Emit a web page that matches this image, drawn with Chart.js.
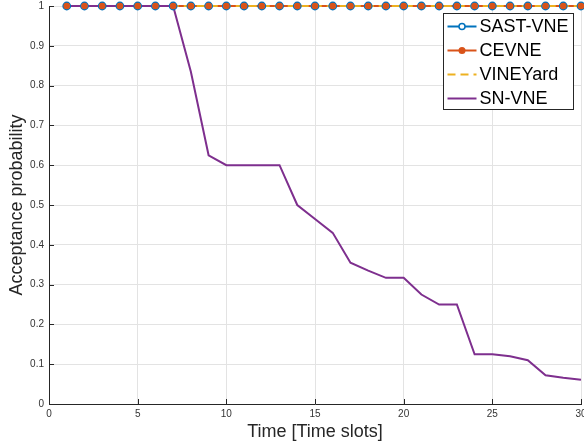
<!DOCTYPE html>
<html>
<head>
<meta charset="utf-8">
<script src="https://cdn.jsdelivr.net/npm/chart.js@4/dist/chart.umd.min.js"></script>
<style>
  html, body { margin: 0; padding: 0; background: #fff; overflow: hidden; }
  #wrap { width: 600px; height: 446px; }
</style>
</head>
<body>
<div id="wrap"><canvas id="acceptChart"></canvas></div>
<script>
// data
var timeSlots = [1,2,3,4,5,6,7,8,9,10,11,12,13,14,15,16,17,18,19,20,21,22,23,24,25,26,27,28,29,30];
var sastVne  = [1,1,1,1,1,1,1,1,1,1,1,1,1,1,1,1,1,1,1,1,1,1,1,1,1,1,1,1,1,1];
var ceVne    = [1,1,1,1,1,1,1,1,1,1,1,1,1,1,1,1,1,1,1,1,1,1,1,1,1,1,1,1,1,1];
var vineyard = [1,1,1,1,1,1,1,1,1,1,1,1,1,1,1,1,1,1,1,1,1,1,1,1,1,1,1,1,1,1];
var snVne    = [1,1,1,1,1,1,1,0.835,0.625,0.6,0.6,0.6,0.6,0.5,0.465,0.43,0.355,0.335,0.317,0.317,0.275,0.25,0.25,0.125,0.125,0.12,0.11,0.072,0.066,0.061];
var xTicks = [0,5,10,15,20,25,30];
var yTicks = [0,0.1,0.2,0.3,0.4,0.5,0.6,0.7,0.8,0.9,1];

var BLUE = '#0072BD', ORANGE = '#D95319', YELLOW = '#EDB120', PURPLE = '#7E2F8E';
var AXIS = '#262626';
var FONT = '"Liberation Sans", Arial, sans-serif';

function pts(ys) {
    return timeSlots.map(function(x, i) { return { x: x, y: ys[i] }; });
}

// matlab style ticks pointing into the plot
var innerTicks = {
    id: 'innerTicks',
    afterDatasetsDraw: function(chart) {
        var ctx = chart.ctx, a = chart.chartArea;
        var xs = chart.scales.x, ys = chart.scales.y;
        ctx.save();
        ctx.strokeStyle = AXIS;
        ctx.lineWidth = 1;
        ctx.beginPath();
        xTicks.forEach(function(v) {
            var px = Math.round(xs.getPixelForValue(v)) + 0.5;
            ctx.moveTo(px, a.bottom); ctx.lineTo(px, a.bottom - 5);
        });
        yTicks.forEach(function(v) {
            var py = Math.round(ys.getPixelForValue(v)) + 0.5;
            ctx.moveTo(a.left, py); ctx.lineTo(a.left + 5, py);
        });
        ctx.stroke();
        ctx.restore();
    }
};

// boxed legend in the top right corner
var boxLegend = {
    id: 'boxLegend',
    afterDraw: function(chart) {
        var ctx = chart.ctx;
        var bx = 443.5, by = 13.5, bw = 130, bh = 96, row = 24;
        var items = chart.data.datasets.filter(function(d) { return !d.noLegend; });
        ctx.save();
        ctx.fillStyle = '#fff';
        ctx.fillRect(bx, by, bw, bh);
        ctx.strokeStyle = '#262626';
        ctx.lineWidth = 1;
        ctx.strokeRect(bx, by, bw, bh);
        items.forEach(function(d, i) {
            var cy = by + 13 + i * row;
            ctx.beginPath();
            ctx.setLineDash(d.borderDash || []);
            ctx.strokeStyle = d.borderColor;
            ctx.lineWidth = 2;
            ctx.moveTo(bx + 4, cy); ctx.lineTo(bx + 33, cy);
            ctx.stroke();
            ctx.setLineDash([]);
            if (d.legendMarker === 'open') {
                ctx.beginPath();
                ctx.arc(bx + 18.5, cy, 3, 0, Math.PI * 2);
                ctx.fillStyle = '#fff'; ctx.fill();
                ctx.lineWidth = 1.5; ctx.strokeStyle = BLUE; ctx.stroke();
            } else if (d.legendMarker === 'dot') {
                ctx.beginPath();
                ctx.arc(bx + 18.5, cy, 3.5, 0, Math.PI * 2);
                ctx.fillStyle = ORANGE; ctx.fill();
            }
            ctx.fillStyle = '#000';
            ctx.font = '18px ' + FONT;
            ctx.textBaseline = 'middle';
            ctx.fillText(d.label, bx + 36, cy + 1);
        });
        ctx.restore();
    }
};

var ctx = document.getElementById('acceptChart').getContext('2d');
new Chart(ctx, {
    type: 'line',
    data: {
        datasets: [
            // marker overlays sit on top of every line
            { label: 'CEVNE', noLegend: true, data: pts(ceVne), showLine: false, pointRadius: 3.3, pointBackgroundColor: ORANGE, pointBorderWidth: 0, borderColor: ORANGE, order: 0 },
            { label: 'SAST-VNE', noLegend: true, data: pts(sastVne), showLine: false, pointRadius: 3.6, pointBackgroundColor: '#fff', pointBorderColor: BLUE, pointBorderWidth: 1.6, borderColor: BLUE, order: 1 },
            { label: 'SAST-VNE', legendMarker: 'open', data: pts(sastVne), borderColor: BLUE, borderWidth: 2, pointRadius: 0, order: 6 },
            { label: 'CEVNE', legendMarker: 'dot', data: pts(ceVne), borderColor: ORANGE, borderWidth: 2, pointRadius: 0, order: 5 },
            { label: 'VINEYard', data: pts(vineyard), borderColor: YELLOW, borderWidth: 2, borderDash: [8, 5], pointRadius: 0, order: 4 },
            { label: 'SN-VNE', data: pts(snVne), borderColor: PURPLE, borderWidth: 2, pointRadius: 0, order: 3 }
        ]
    },
    options: {
        responsive: true,
        maintainAspectRatio: false,
        devicePixelRatio: 1,
        animation: false,
        clip: false,
        layout: { padding: { left: 0, right: 19, top: 0, bottom: 0 } },
        plugins: { legend: { display: false }, tooltip: { enabled: false } },
        scales: {
            x: {
                type: 'linear', min: 0, max: 30,
                afterBuildTicks: function(s) { s.ticks = xTicks.map(function(v) { return { value: v }; }); },
                afterFit: function(s) { s.height = 42; },
                grid: { color: '#e3e3e3', drawTicks: false },
                border: { color: AXIS, width: 1 },
                ticks: { color: '#333', padding: 4, maxRotation: 0, font: { size: 10, family: FONT } },
                title: { display: true, text: 'Time [Time slots]', color: '#262626', padding: { top: 0, bottom: 3 }, font: { size: 18, family: FONT } }
            },
            y: {
                type: 'linear', min: 0, max: 1,
                afterBuildTicks: function(s) { s.ticks = yTicks.map(function(v) { return { value: v }; }); },
                afterFit: function(s) { s.width = 49; s.paddingTop = 6; },
                grid: { color: '#e3e3e3', drawTicks: false },
                border: { color: AXIS, width: 1 },
                ticks: { color: '#333', padding: 5, font: { size: 10, family: FONT },
                    callback: function(v) { return String(Math.round(v * 10) / 10); } },
                title: { display: true, text: 'Acceptance probability', color: '#262626', padding: { top: 6, bottom: 0 }, font: { size: 18, family: FONT } }
            }
        }
    },
    plugins: [innerTicks, boxLegend]
});
</script>
</body>
</html>
